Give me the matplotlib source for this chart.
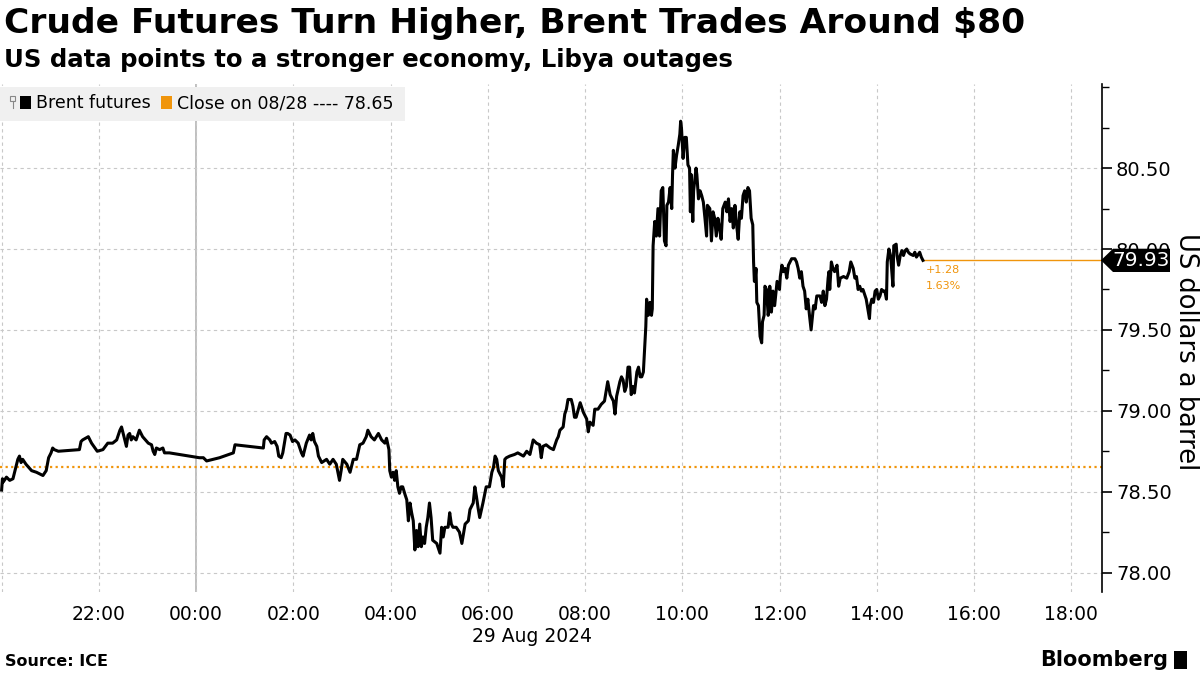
import matplotlib
matplotlib.use("Agg")
import matplotlib.pyplot as plt
import matplotlib.ticker as ticker
from matplotlib.patches import Rectangle, Polygon
from matplotlib.transforms import blended_transform_factory
import matplotlib.dates as mdates
import pandas as pd

# minutes after 28 Aug 2024 20:00, and Brent price (USD/bbl)
MINUTES = [
    0, 1, 2, 6, 10, 14, 16, 20, 22, 24, 26, 30, 37, 43, 51, 55, 58, 61, 63, 65,
    70, 96, 98, 100, 107, 111, 118, 125, 131, 137, 142, 146, 148, 150, 154, 156,
    158, 160, 162, 166, 170, 174, 181, 185, 187, 189, 191, 195, 199, 201, 207,
    244, 249, 253, 269, 286, 288, 323, 324, 327, 331, 333, 337, 340, 342, 345,
    347, 351, 353, 356, 359, 362, 366, 370, 372, 376, 380, 382, 384, 386, 389,
    391, 395, 401, 405, 409, 413, 417, 419, 421, 426, 430, 434, 438, 442, 446,
    450, 452, 456, 460, 465, 469, 473, 475, 478, 479, 481, 483, 485, 487, 489,
    491, 493, 495, 498, 500, 502, 504, 506, 508, 510, 512, 514, 516, 518, 520,
    522, 524, 526, 528, 530, 532, 537, 541, 543, 545, 547, 551, 553, 555, 557,
    561, 565, 568, 570, 572, 576, 578, 582, 584, 586, 588, 590, 594, 598, 602,
    605, 607, 609, 611, 613, 617, 619, 621, 623, 627, 633, 637, 644, 648, 652,
    656, 660, 664, 666, 668, 672, 677, 681, 685, 687, 689, 693, 695, 697, 699,
    703, 705, 707, 709, 714, 718, 722, 724, 726, 730, 732, 736, 740, 744, 748,
    751, 755, 757, 759, 763, 765, 767, 769, 771, 773, 775, 777, 779, 781, 784,
    786, 788, 790, 792, 794, 795, 796, 798, 800, 802, 803, 804, 806, 808, 810,
    812, 814, 816, 818, 820, 821, 823, 825, 827, 828, 829, 831, 833, 835, 837,
    838, 839, 841, 843, 845, 847, 849, 850, 851, 853, 854, 857, 858, 860, 862,
    864, 866, 868, 870, 871, 874, 876, 878, 880, 882, 884, 886, 888, 890, 893,
    895, 897, 899, 901, 903, 905, 907, 909, 911, 913, 915, 917, 919, 921, 923,
    925, 927, 928, 929, 930, 931, 932, 934, 936, 938, 939, 941, 942, 944, 946,
    947, 948, 950, 952, 954, 956, 957, 960, 961, 963, 965, 967, 969, 971, 973,
    975, 979, 981, 983, 985, 987, 989, 991, 993, 995, 997, 999, 1002, 1004,
    1006, 1010, 1012, 1014, 1016, 1018, 1020, 1021, 1022, 1024, 1026, 1028,
    1031, 1033, 1035, 1039, 1043, 1046, 1048, 1051, 1053, 1055, 1057, 1059,
    1061, 1063, 1067, 1069, 1071, 1072, 1074, 1076, 1078, 1080, 1082, 1084,
    1086, 1088, 1090, 1092, 1093, 1095, 1097, 1098, 1100, 1101, 1104, 1105,
    1107, 1109, 1111, 1113, 1115, 1117, 1119, 1121, 1125, 1127, 1129, 1133,
    1135, 1137,
]
PRICES = [
    78.51, 78.58, 78.56, 78.59, 78.57, 78.58, 78.62, 78.70, 78.72, 78.68, 78.70,
    78.67, 78.63, 78.62, 78.60, 78.63, 78.71, 78.74, 78.77, 78.76, 78.75, 78.76,
    78.81, 78.82, 78.84, 78.80, 78.75, 78.76, 78.80, 78.80, 78.82, 78.88, 78.90,
    78.86, 78.78, 78.85, 78.86, 78.82, 78.84, 78.82, 78.88, 78.84, 78.80, 78.79,
    78.75, 78.73, 78.77, 78.76, 78.77, 78.74, 78.74,
    78.71, 78.71, 78.69, 78.71, 78.74, 78.79, 78.77, 78.82, 78.84, 78.82, 78.80,
    78.81, 78.78, 78.72, 78.71, 78.74, 78.86, 78.86, 78.85, 78.81, 78.82, 78.80,
    78.74, 78.72, 78.80, 78.85, 78.82, 78.86, 78.81, 78.78, 78.72, 78.68, 78.70,
    78.67, 78.70, 78.67, 78.57, 78.63, 78.70, 78.67, 78.62, 78.70, 78.70, 78.79,
    78.80, 78.84, 78.88, 78.84, 78.82, 78.86, 78.82, 78.80, 78.83, 78.76, 78.63,
    78.59, 78.62, 78.57, 78.63, 78.53, 78.49, 78.53, 78.53, 78.48, 78.45, 78.32,
    78.43, 78.37, 78.32, 78.14, 78.26, 78.16, 78.30, 78.16, 78.22, 78.18, 78.28,
    78.34, 78.43, 78.34, 78.20, 78.18, 78.12, 78.28, 78.22, 78.28, 78.28, 78.37,
    78.30, 78.28, 78.28, 78.25, 78.18, 78.24, 78.30, 78.32, 78.39, 78.43, 78.53,
    78.47, 78.40, 78.34, 78.43, 78.53, 78.53, 78.62, 78.65, 78.72, 78.70, 78.63,
    78.59, 78.53, 78.70, 78.71, 78.72, 78.73, 78.74, 78.72, 78.75, 78.73, 78.82,
    78.80, 78.79, 78.71, 78.78, 78.79, 78.77, 78.76, 78.82, 78.84, 78.88, 78.90,
    78.98, 79.01, 79.07, 79.07, 79.03, 78.96, 78.96, 79.05, 78.99, 78.95, 78.87,
    78.93, 78.91, 79.01, 79.01, 79.04, 79.06, 79.18, 79.10, 79.06, 78.98, 79.09,
    79.18, 79.21, 79.19, 79.12, 79.15, 79.27, 79.27, 79.10, 79.15, 79.11, 79.24,
    79.27, 79.21, 79.21, 79.24, 79.42, 79.52, 79.69, 79.59, 79.67, 79.59, 79.63,
    80.02, 80.17, 80.08, 80.25, 80.08, 80.36, 80.38, 80.05, 80.02, 80.27, 80.29,
    80.38, 80.25, 80.46, 80.61, 80.50, 80.58, 80.64, 80.71, 80.79, 80.75, 80.56,
    80.69, 80.69, 80.52, 80.50, 80.23, 80.46, 80.17, 80.36, 80.50, 80.46, 80.31,
    80.36, 80.33, 80.29, 80.19, 80.08, 80.27, 80.25, 80.05, 80.23, 80.19, 80.08,
    80.19, 80.13, 80.06, 80.25, 80.29, 80.23, 80.31, 80.17, 80.25, 80.13, 80.27,
    80.15, 80.06, 80.23, 80.19, 80.33, 80.36, 80.29, 80.38, 80.36, 80.19, 80.15,
    79.92, 79.80, 79.82, 79.88, 79.67, 79.65, 79.46, 79.42, 79.55, 79.59, 79.77,
    79.75, 79.59, 79.63, 79.77, 79.61, 79.74, 79.65, 79.75, 79.80, 79.75, 79.83,
    79.90, 79.86, 79.88, 79.82, 79.90, 79.92, 79.94, 79.94, 79.92, 79.88, 79.82,
    79.86, 79.77, 79.74, 79.63, 79.69, 79.59, 79.50, 79.65, 79.63, 79.71, 79.71,
    79.67, 79.74, 79.65, 79.69, 79.82, 79.86, 79.75, 79.92, 79.88, 79.86, 79.90,
    79.77, 79.82, 79.83, 79.82, 79.86, 79.92, 79.88, 79.82, 79.83, 79.75, 79.77,
    79.74, 79.75, 79.69, 79.63, 79.57, 79.65, 79.69, 79.67, 79.74, 79.75, 79.69,
    79.71, 79.75, 79.74, 79.74, 79.69, 79.92, 80.00, 79.96, 79.90, 79.77, 80.02,
    80.03, 79.96, 79.90, 79.96, 79.99, 79.96, 79.99, 80.00, 79.98, 79.97, 79.96,
    79.98, 79.95, 79.98, 79.95, 79.93,
]

PREV_CLOSE = 78.65
LAST = 79.93
CHANGE = "+1.28"
CHANGE_PCT = "1.63%"
Y_TICKS = [78.0, 78.5, 79.0, 79.5, 80.0, 80.5]
X_TICKS = ["2024-08-28 22:00", "2024-08-29 00:00", "2024-08-29 02:00", "2024-08-29 04:00",
           "2024-08-29 06:00", "2024-08-29 08:00", "2024-08-29 10:00", "2024-08-29 12:00",
           "2024-08-29 14:00", "2024-08-29 16:00", "2024-08-29 18:00"]

START = pd.Timestamp("2024-08-28 20:00")
ORANGE = "#f0950c"
GRID = "#c8c8c8"
NARROW = ["Liberation Sans Narrow", "DejaVu Sans"]

times = [START + pd.Timedelta(minutes=m) for m in MINUTES]
xticks = [pd.Timestamp(t) for t in X_TICKS]

fig = plt.figure(figsize=(12, 6.75), dpi=100)
ax = fig.add_axes([0.0, 83 / 675, 1102 / 1200, (592 - 84) / 675])

ax.plot(times, PRICES, color="black", linewidth=2.2, zorder=3)
ax.axhline(PREV_CLOSE, color=ORANGE, linestyle=(0, (1, 1.5)), linewidth=1.6, zorder=2)
ax.plot([times[-1], START + pd.Timedelta(minutes=1360)], [LAST, LAST],
        color=ORANGE, linewidth=1.0, zorder=2)

ax.set_xlim(START - pd.Timedelta(minutes=2), START + pd.Timedelta(minutes=1358))
ax.set_ylim(77.88, 81.02)

# axes / ticks
for side in ["top", "left", "bottom"]:
    ax.spines[side].set_visible(False)
ax.spines["right"].set_color("black")
ax.spines["right"].set_linewidth(1.2)
ax.yaxis.tick_right()
ax.yaxis.set_major_locator(ticker.FixedLocator(Y_TICKS))
ax.yaxis.set_minor_locator(ticker.MultipleLocator(0.25))
ax.yaxis.set_major_formatter(ticker.FuncFormatter(lambda v, _: f"{v:.2f}"))
ax.tick_params(axis="y", which="major", length=7, width=1.2, pad=3,
               labelsize=14, direction="out")
ax.tick_params(axis="y", which="minor", length=5, width=1.0, direction="out")

ax.set_xticks(xticks)
ax.xaxis.set_major_formatter(mdates.DateFormatter("%H:%M"))
ax.tick_params(axis="x", length=0, pad=9, labelsize=13.5)
for lab in ax.get_xticklabels() + ax.get_yticklabels():
    lab.set_family(NARROW)

ax.grid(axis="y", color=GRID, linestyle=(0, (3, 3)), linewidth=0.8)
ax.grid(axis="x", color=GRID, linestyle=(0, (3, 3)), linewidth=0.8)
ax.axvline(pd.Timestamp("2024-08-29 00:00"), color="#b4b4b4", linewidth=1.2, zorder=1)
ax.axvline(START, color=GRID, linestyle=(0, (3, 3)), linewidth=0.8)

ax.text(pd.Timestamp("2024-08-29 06:55"), -0.068, "29 Aug 2024", transform=ax.get_xaxis_transform(),
        ha="center", va="top", fontsize=13.5, family=NARROW)

# last value badge
tr = blended_transform_factory(fig.transFigure, ax.transData)
h = 0.072
x0, x1, x2 = 1101 / 1200, 1113 / 1200, 1170 / 1200
badge = Polygon([(x0, LAST), (x1, LAST + h), (x2, LAST + h), (x2, LAST - h), (x1, LAST - h)],
                closed=True, facecolor="black", edgecolor="none", transform=tr, clip_on=False, zorder=5)
fig.patches.append(badge)
fig.text(1141 / 1200, LAST, f"{LAST:.2f}", transform=tr, color="white", fontsize=14.5,
         ha="center", va="center", family=NARROW, zorder=6)

ax.text(times[-1] + pd.Timedelta(minutes=3), LAST - 0.03, CHANGE, color=ORANGE, fontsize=8,
        ha="left", va="top")
ax.text(times[-1] + pd.Timedelta(minutes=3), LAST - 0.13, CHANGE_PCT, color=ORANGE, fontsize=8,
        ha="left", va="top")

# y label
fig.text(1186 / 1200, 1 - 352 / 675, "US dollars a barrel", rotation=270, fontsize=18.5,
         ha="center", va="center")

# legend bar
fig.patches.append(Rectangle((0, 1 - 121 / 675), 405 / 1200, 34 / 675, transform=fig.transFigure,
                             facecolor="#f0f0f0", edgecolor="none", zorder=4))
fig.patches.append(Rectangle((10 / 1200, 1 - 101 / 675), 5 / 1200, 5 / 675, transform=fig.transFigure,
                             facecolor="none", edgecolor="#888888", linewidth=0.8, zorder=5))
fig.lines.append(plt.Line2D([12.5 / 1200, 12.5 / 1200], [1 - 101 / 675, 1 - 108 / 675],
                            transform=fig.transFigure, color="#888888", linewidth=0.8, zorder=5))
fig.patches.append(Rectangle((20 / 1200, 1 - 109 / 675), 11 / 1200, 13 / 675, transform=fig.transFigure,
                             facecolor="black", edgecolor="none", zorder=5))
fig.text(36 / 1200, 1 - 103 / 675, "Brent futures", fontsize=12.5, va="center", ha="left", zorder=6)
fig.patches.append(Rectangle((161 / 1200, 1 - 109 / 675), 11 / 1200, 13 / 675, transform=fig.transFigure,
                             facecolor=ORANGE, edgecolor="none", zorder=5))
fig.text(177 / 1200, 1 - 103 / 675, f"Close on 08/28 ---- {PREV_CLOSE:.2f}", fontsize=12.5,
         va="center", ha="left", zorder=6)

# titles and footer
fig.text(4 / 1200, 1 - 24 / 675, "Crude Futures Turn Higher, Brent Trades Around $80",
         fontsize=24.8, fontweight="bold", va="center", ha="left")
fig.text(4 / 1200, 1 - 60 / 675, "US data points to a stronger economy, Libya outages",
         fontsize=17.6, fontweight="bold", va="center", ha="left")
fig.text(5 / 1200, 1 - 662 / 675, "Source: ICE", fontsize=11.5, fontweight="bold",
         va="center", ha="left")
fig.text(1168 / 1200, 1 - 660 / 675, "Bloomberg", fontsize=15, fontweight="bold",
         va="center", ha="right")
fig.patches.append(Rectangle((1174 / 1200, 1 - 669 / 675), 13 / 1200, 18 / 675, transform=fig.transFigure,
                             facecolor="black", edgecolor="none"))

fig.savefig("out.png", dpi=100)
plt.close(fig)
